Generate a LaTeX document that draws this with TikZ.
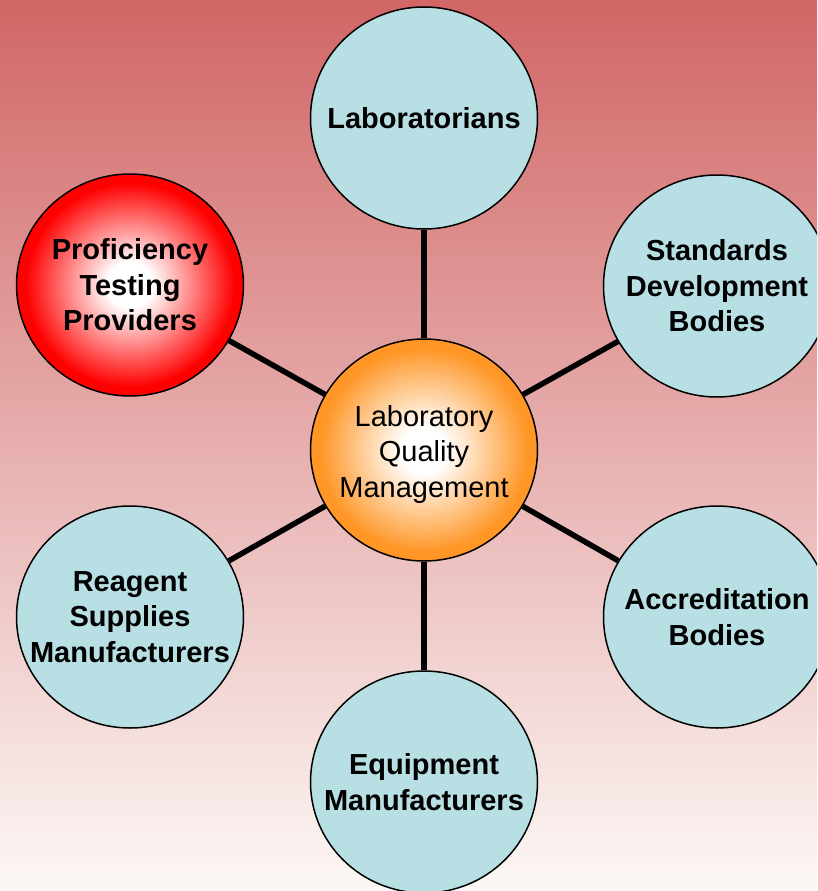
\documentclass[tikz,border=0pt]{standalone}
\usepackage{fontspec}
\setmainfont{Liberation Sans}
\usetikzlibrary{shapes.geometric}
\definecolor{bgtop}{RGB}{209,102,102}
\definecolor{bgbot}{RGB}{252,248,246}
\definecolor{bubble}{RGB}{184,224,228}
\definecolor{orangeedge}{RGB}{255,150,38}
\pgfdeclareradialshading{redball}{\pgfpoint{0bp}{0bp}}{color(0bp)=(white); color(5bp)=(white); color(23bp)=(red); color(25bp)=(red); color(50bp)=(red)}
\pgfdeclareradialshading{orangeball}{\pgfpoint{0bp}{0bp}}{color(0bp)=(white); color(5bp)=(white); color(23bp)=(orangeedge); color(25bp)=(orangeedge); color(50bp)=(orangeedge)}
\tikzset{
  bubblenode/.style={ellipse, draw=black, line width=1.5pt, minimum width=227pt, minimum height=222pt, inner sep=0pt, fill=bubble},
  boldtext/.style={font=\fontsize{29}{35.5}\selectfont\bfseries, align=center},
  plaintext/.style={font=\fontsize{29}{35.5}\selectfont, align=center},
  hubnode/.style={bubblenode, shading=orangeball},
  rednode/.style={bubblenode, shading=redball},
  link/.style={line width=5.5pt, black}
}
\begin{document}
\begin{tikzpicture}[x=1pt, y=-1pt]
\useasboundingbox (0,0) rectangle (817,891);
\clip (0,0) rectangle (817,891);
\shade[top color=bgtop, bottom color=bgbot] (0,0) rectangle (817,891);
\node[hubnode, label={[plaintext, yshift=-4pt]center:Laboratory\\Quality\\Management}] (c) at (424,450) {};
\node[bubblenode, label={[boldtext]center:Laboratorians}] (lab) at (424,118) {};
\node[bubblenode, label={[boldtext]center:Standards\\Development\\Bodies}] (std) at (717,286) {};
\node[bubblenode, label={[boldtext]center:Accreditation\\Bodies}] (acc) at (717,617) {};
\node[bubblenode, label={[boldtext]center:Equipment\\Manufacturers}] (eq) at (424,782) {};
\node[bubblenode, label={[boldtext]center:Reagent\\Supplies\\Manufacturers}] (rea) at (130,617) {};
\node[rednode, label={[boldtext]center:Proficiency\\Testing\\Providers}] (pro) at (130,285) {};
\draw[link] (c) -- (lab);
\draw[link] (c) -- (std);
\draw[link] (c) -- (acc);
\draw[link] (c) -- (eq);
\draw[link] (c) -- (rea);
\draw[link] (c) -- (pro);
\end{tikzpicture}
\end{document}
